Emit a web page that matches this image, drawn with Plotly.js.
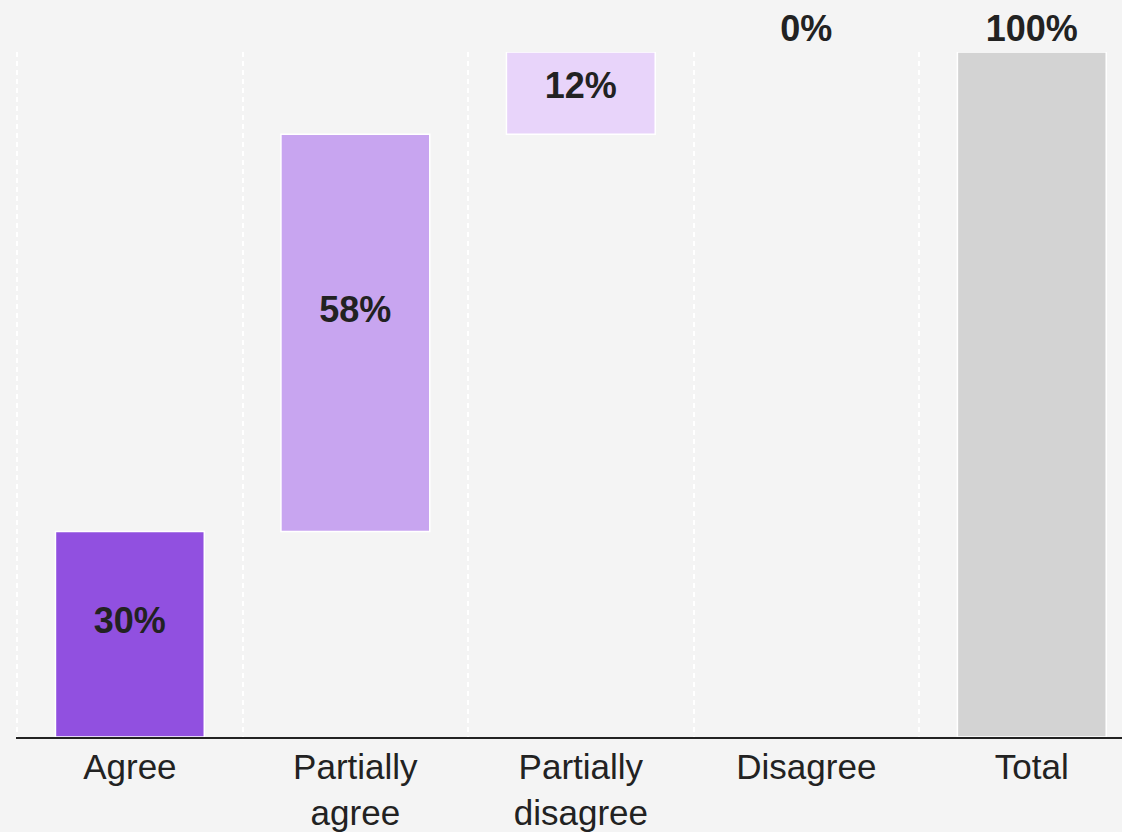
<!DOCTYPE html>
<html>
<head>
<meta charset="utf-8">
<script src="https://cdn.plot.ly/plotly-3.0.1.min.js"></script>
<style>
  html, body { margin: 0; padding: 0; background: #f4f4f4; overflow: hidden; }
  #chart { width: 1122px; height: 832px; }
</style>
</head>
<body>
<div id="chart"></div>
<script>
// ---- data ----
const categories = ["Agree", "Partially<br>agree", "Partially<br>disagree", "Disagree", "Total"];
const stepValues = [30, 58, 12, 0];
const totalValue = 100;
const barColors = ["#9150e0", "#c8a5f0", "#e8d4fa", "#e8d4fa", "#d3d3d3"];

const FONT = "Arial, 'Liberation Sans', sans-serif";
const LABEL_FRAC = 0.55; // where the in-bar label sits along each step

// ---- build waterfall-like bars ----
const ys = [], bases = [], outsideText = [], lineWidths = [];
const inX = [], inY = [], inText = [];
let running = 0;
stepValues.forEach((v, i) => {
  bases.push(running);
  ys.push(v);
  lineWidths.push(v > 0 ? 1.5 : 0);
  if (v > 0) {
    outsideText.push("");
    inX.push(categories[i]);
    inY.push(running + v * LABEL_FRAC);
    inText.push(v + "%");
  } else {
    outsideText.push(v + "%");
  }
  running += v;
});
bases.push(0);
ys.push(totalValue);
outsideText.push(totalValue + "%");
lineWidths.push(1.5);

const labelFont = { family: FONT, size: 36, color: "#222222", weight: "bold" };

const bars = {
  type: "bar",
  x: categories,
  y: ys,
  base: bases,
  width: 0.66,
  marker: { color: barColors, line: { color: "#ffffff", width: lineWidths } },
  text: outsideText,
  textposition: "outside",
  constraintext: "none",
  cliponaxis: false,
  textfont: labelFont,
  hoverinfo: "skip"
};

const inLabels = {
  type: "scatter",
  mode: "text",
  x: inX,
  y: inY,
  text: inText,
  textposition: "middle center",
  textfont: labelFont,
  hoverinfo: "skip",
  cliponaxis: false
};

const layout = {
  width: 1122,
  height: 832,
  paper_bgcolor: "#f4f4f4",
  plot_bgcolor: "#f4f4f4",
  margin: { l: 16, r: 0, t: 52, b: 95 },
  showlegend: false,
  font: { family: FONT, color: "#222222" },
  xaxis: {
    type: "category",
    range: [-0.505, 4.4],
    tickson: "boundaries",
    showgrid: true,
    gridcolor: "#ffffff",
    gridwidth: 2,
    griddash: "5px,4px",
    ticks: "",
    showline: true,
    linecolor: "#222222",
    linewidth: 2,
    ticklabelstandoff: -2,
    tickfont: { family: FONT, size: 35, color: "#222222" },
    fixedrange: true
  },
  yaxis: {
    range: [0, 100],
    showgrid: false,
    zeroline: false,
    showticklabels: false,
    ticks: "",
    fixedrange: true
  }
};

Plotly.newPlot("chart", [bars, inLabels], layout, { displayModeBar: false, staticPlot: true });
</script>
</body>
</html>
